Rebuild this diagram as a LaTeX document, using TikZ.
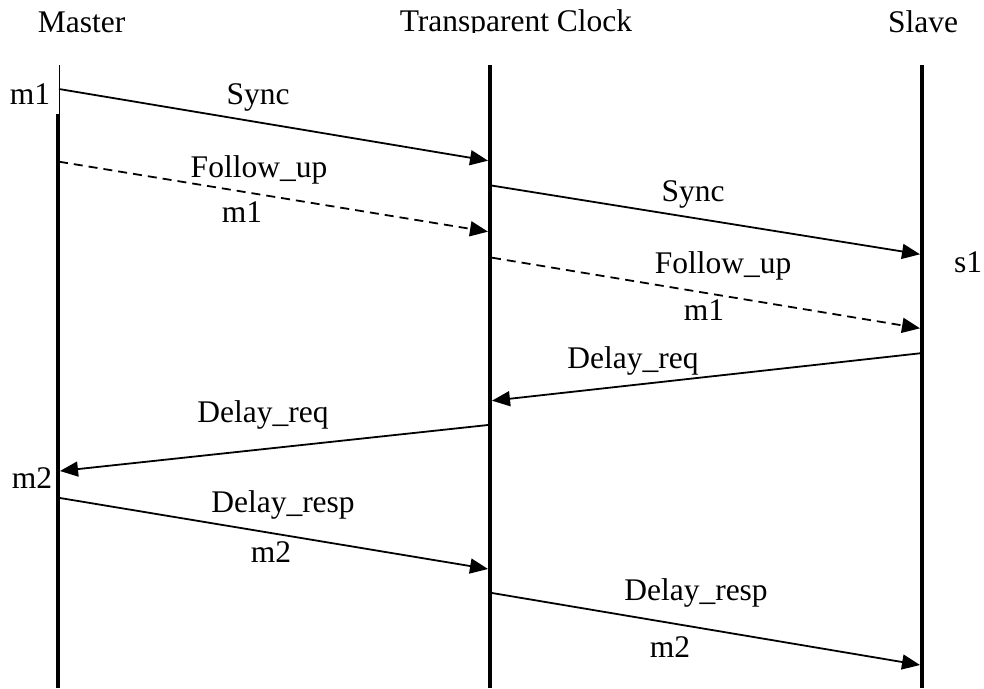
\documentclass[tikz,border=0pt]{standalone}
\usepackage{fontspec}
\setmainfont{Liberation Serif}
\usetikzlibrary{arrows.meta}
\begin{document}
\begin{tikzpicture}[x=1pt,y=-1pt,
  lifeline/.style={line width=3.8pt},
  thinline/.style={line width=1pt},
  msg/.style={line width=1.8pt, -{Triangle[length=18pt,width=15pt]}},
  dashmsg/.style={msg, dash pattern=on 9pt off 6pt},
  lbl/.style={font=\fontsize{31.5}{36}\selectfont, anchor=base, inner sep=0pt}]
\useasboundingbox (0,0) rectangle (984,688);

% lifeline end points
\coordinate (mtop) at (59,65);
\coordinate (mjoin) at (59,114);
\coordinate (mthick) at (58,114);
\coordinate (mbot) at (58,688);
\coordinate (ttop) at (490,65);
\coordinate (tbot) at (490,688);
\coordinate (stop) at (922,65);
\coordinate (sbot) at (922,688);

% lifelines
\draw[thinline] (mtop) -- (mjoin);
\draw[lifeline] (mthick) -- (mbot);
\draw[lifeline] (ttop) -- (tbot);
\draw[lifeline] (stop) -- (sbot);

% message end points
\coordinate (msync) at (59,89);
\coordinate (tsyncin) at (488,160.7);
\coordinate (mfu) at (59,161.7);
\coordinate (tfuin) at (488,231.7);
\coordinate (tsync) at (492,185.6);
\coordinate (ssyncin) at (920,254.3);
\coordinate (tfu) at (492,257.7);
\coordinate (sfuin) at (920,328.3);
\coordinate (sdreq) at (920,353.3);
\coordinate (tdreqin) at (492,400.7);
\coordinate (tdreq) at (488,425);
\coordinate (mdreqin) at (60,471);
\coordinate (mdresp) at (60,498);
\coordinate (tdrespin) at (488,569);
\coordinate (tdresp) at (492,593);
\coordinate (sdrespin) at (920,665);

% messages
\draw[msg] (msync) -- (tsyncin);
\draw[dashmsg] (mfu) -- (tfuin);
\draw[msg] (tsync) -- (ssyncin);
\draw[dashmsg] (tfu) -- (sfuin);
\draw[msg] (sdreq) -- (tdreqin);
\draw[msg] (tdreq) -- (mdreqin);
\draw[msg] (mdresp) -- (tdrespin);
\draw[msg] (tdresp) -- (sdrespin);

% headings
\node[lbl] (master) at (81.5,32) {Master};
\begin{scope}
  \clip (0,0) rectangle (984,32.5);
  \node[lbl] (tclock) at (516,31) {Transparent Clock};
\end{scope}
\node[lbl] (slave) at (923,32) {Slave};

% timestamps
\node[lbl] (tm1) at (30,104) {m1};
\node[lbl] (ts1) at (968,272) {s1};
\node[lbl] (tm2) at (32,488) {m2};

% message labels
\node[lbl] (lsync1) at (258,104) {Sync};
\node[lbl] (lfu1) at (259,177) {Follow\_up};
\node[lbl] (lfum1) at (242,222) {m1};
\node[lbl] (lsync2) at (693,201) {Sync};
\node[lbl] (lfu2) at (723,273) {Follow\_up};
\node[lbl] (lfum2) at (704,320) {m1};
\node[lbl] (ldreq1) at (633,368) {Delay\_req};
\node[lbl] (ldreq2) at (263,422) {Delay\_req};
\node[lbl] (ldresp1) at (283,512) {Delay\_resp};
\node[lbl] (lrm1) at (271,562) {m2};
\node[lbl] (ldresp2) at (696,600) {Delay\_resp};
\node[lbl] (lrm2) at (670,657) {m2};
\end{tikzpicture}
\end{document}
